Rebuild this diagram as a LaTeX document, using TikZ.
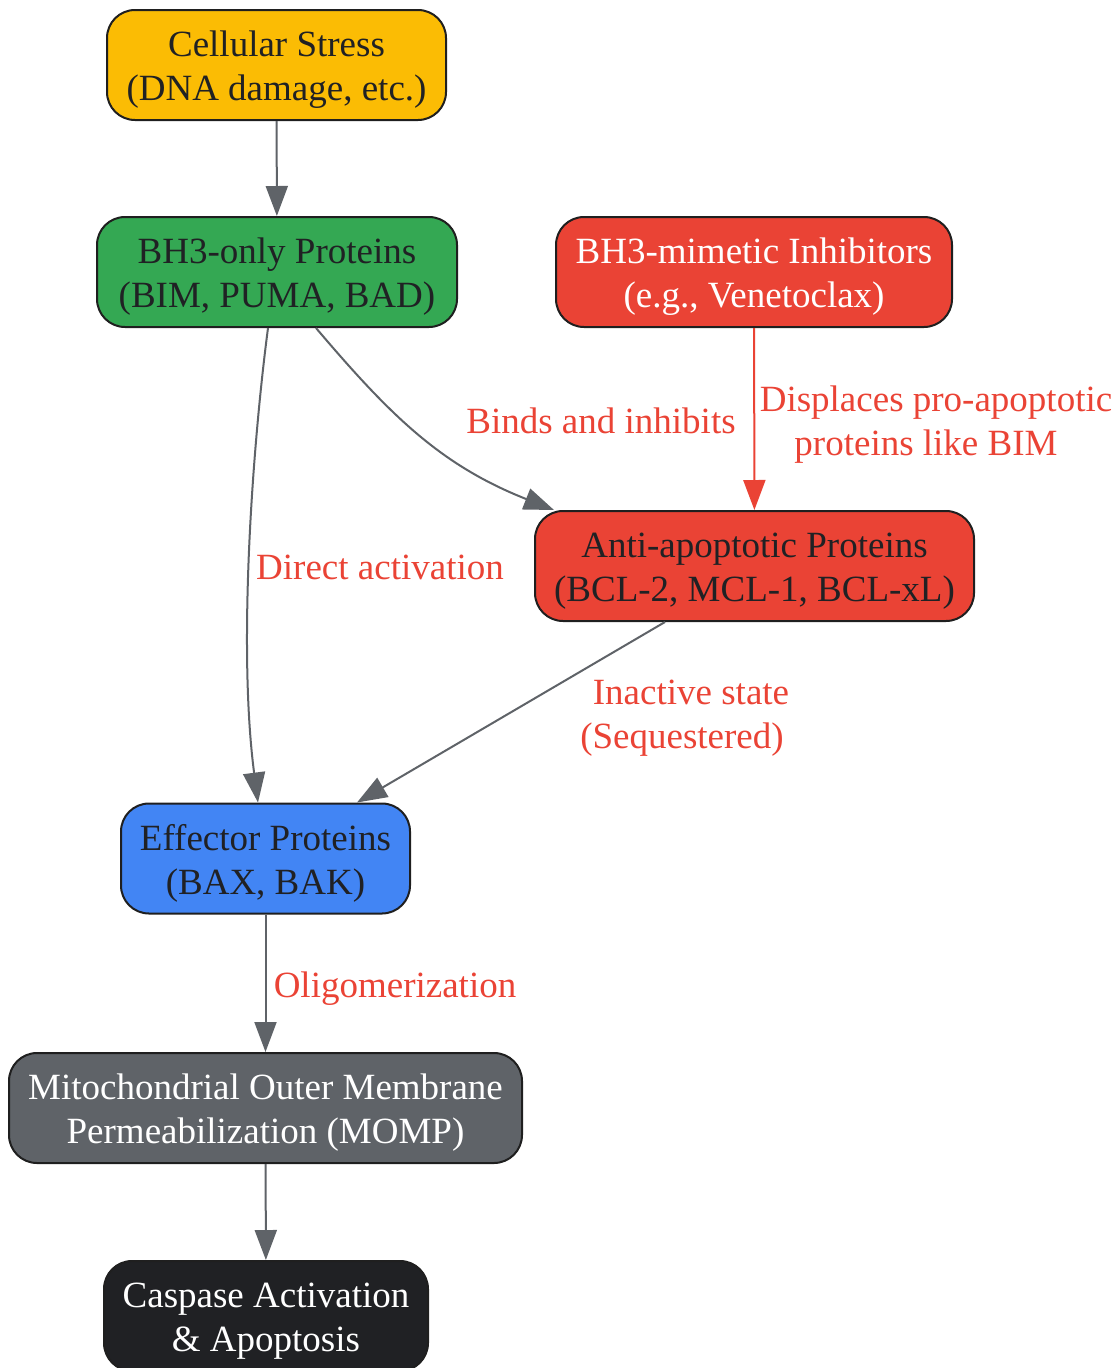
\documentclass[tikz,border=0pt]{standalone}
\usepackage{fontspec}
\setmainfont{Liberation Serif}
\usetikzlibrary{arrows.meta}
\definecolor{cyellow}{HTML}{FBBC04}
\definecolor{cgreen}{HTML}{34A853}
\definecolor{cred}{HTML}{EA4335}
\definecolor{cblue}{HTML}{4285F4}
\definecolor{cgray}{HTML}{5F6368}
\definecolor{cblack}{HTML}{202124}
\definecolor{cborder}{HTML}{1F1F1F}
\begin{document}
\begin{tikzpicture}[x=1pt,y=-1pt,
  box/.style={draw=cborder, line width=2pt, rounded corners=28pt, inner sep=0pt, minimum height=110pt},
  btext/.style={align=center, font=\fontsize{37}{44}\selectfont, inner sep=0pt, yshift=-5pt},
  darktext/.style={text=cblack},
  lighttext/.style={text=white},
  conn/.style={draw=cgray, line width=2pt, -{Triangle[length=30pt,width=22pt]}},
  redconn/.style={draw=cred, line width=2pt, -{Triangle[length=30pt,width=22pt]}},
  lbl/.style={text=cred, align=center, font=\fontsize{37}{44}\selectfont, inner sep=0pt}
]
\useasboundingbox (0,0) rectangle (1118,1368);
\node[box, fill=cyellow, minimum width=339pt, label={[btext,darktext]center:Cellular Stress\\(DNA damage, etc.)}] (stress) at (276.5,65) {};
\node[box, fill=cgreen, minimum width=360pt, label={[btext,darktext]center:BH3-only Proteins\\(BIM, PUMA, BAD)}] (bh3) at (277,272) {};
\node[box, fill=cred, minimum width=396pt, label={[btext,lighttext]center:BH3-mimetic Inhibitors\\(e.g., Venetoclax)}] (mim) at (754,272) {};
\node[box, fill=cred, minimum width=439pt, label={[btext,darktext]center:Anti-apoptotic Proteins\\(BCL-2, MCL-1, BCL-xL)}] (anti) at (754.5,566) {};
\node[box, fill=cblue, minimum width=289pt, label={[btext,darktext]center:Effector Proteins\\(BAX, BAK)}] (eff) at (265.5,858.5) {};
\node[box, fill=cgray, minimum width=513pt, label={[btext,lighttext]center:Mitochondrial Outer Membrane\\Permeabilization (MOMP)}] (momp) at (265.5,1108) {};
\node[box, fill=cblack, minimum width=324pt, label={[btext,lighttext]center:Caspase Activation\\\& Apoptosis}] (casp) at (266,1316) {};

\draw[conn] (stress) -- (bh3);
\draw[conn] ([xshift=-9pt]bh3.south) .. controls (252,450) and (238,650) .. ([xshift=-7.5pt]eff.north);
\draw[conn] ([xshift=39pt]bh3.south) .. controls (390,415) and (440,465) .. ([xshift=20pt]anti.north west);
\draw[redconn] (mim) -- (anti);
\draw[conn] ([xshift=-89.5pt]anti.south) -- ([xshift=91.5pt]eff.north);
\draw[conn] (eff) -- (momp);
\draw[conn] (momp) -- (casp);

\node[lbl] (l1) at (380,567) {Direct activation};
\node[lbl] (l2) at (601,421) {Binds and inhibits};
\node[lbl] (l3) at (936,425) {Displaces pro-apoptotic\\proteins like BIM\hspace*{20pt}};
\node[lbl] (l4) at (686.5,718) {\hspace*{9pt}Inactive state\\(Sequestered)\hspace*{9pt}};
\node[lbl] (l5) at (395,989) {Oligomerization};
\end{tikzpicture}
\end{document}
